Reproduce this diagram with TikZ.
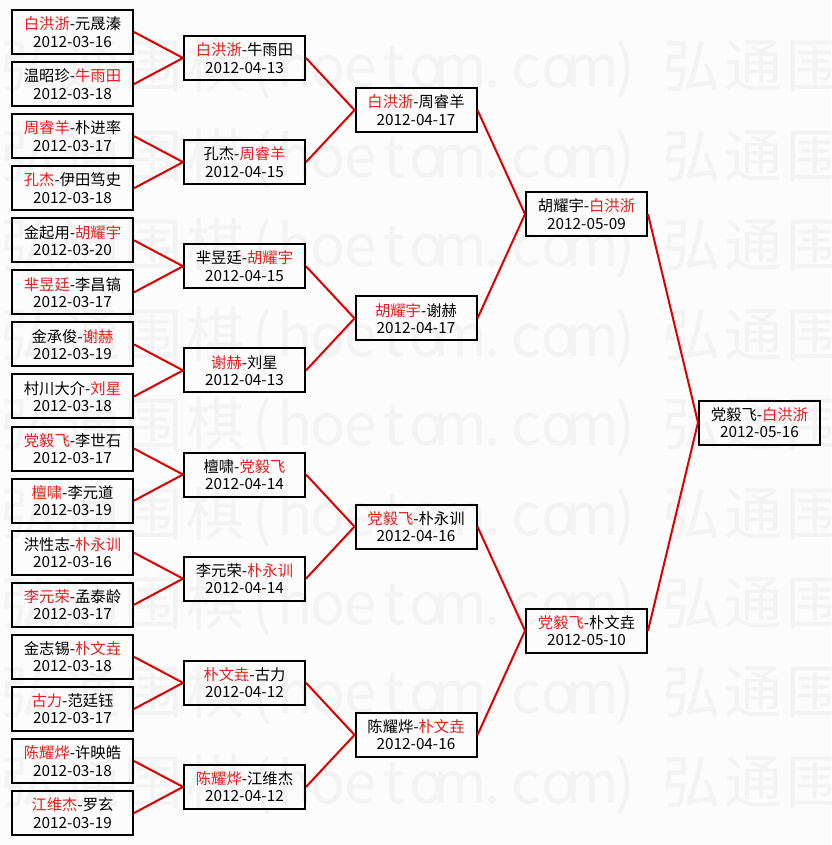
\documentclass[tikz,border=0pt]{standalone}
\usepackage{fontspec}
\setmainfont{Noto Sans CJK SC}
\definecolor{wline}{RGB}{220,0,0}
\definecolor{wtxt}{RGB}{232,30,30}
\definecolor{wmark}{RGB}{243,243,243}
\definecolor{bgc}{RGB}{252,252,252}
\tikzset{
  game/.style={draw=black, line width=2pt, minimum width=121pt, minimum height=44pt,
    inner sep=0pt, align=center, font=\fontsize{15.3}{17.3}\selectfont},
  link/.style={draw=wline, line width=2pt},
  wm/.style={text=wmark, font=\fontsize{58}{58}\selectfont, inner sep=0pt, anchor=base}
}
\newcommand\R[1]{\textcolor{wtxt}{#1}}
\def\wlp{(}
\def\wrp{)}
\begin{document}
\begin{tikzpicture}[x=1pt,y=-1pt]
\useasboundingbox (0,0) rectangle (831,845);
\fill[bgc] (0,0) rectangle (831,845);
% watermark
\begin{scope}
\clip (0,0) rectangle (831,845);
\foreach \k in {0,...,8}{
  \foreach \n in {0,1}{
    \foreach \c [count=\j from 0] in {弘,通,围,棋}{
      \node[wm] (wmc-\k-\n-\j) at ({29+662*\n+62*\j},{88+89.4*\k}) {\c};
    }
    \foreach \c [count=\i from 0] in {\wlp,h,o,e,t,o,m,.,c,o,m,\wrp}{
      \node[wm] (wma-\k-\n-\i) at ({262+662*\n+33*\i},{88+89.4*\k}) {\c};
    }
  }
}
\end{scope}
% round 1
\node[game] (a1)  at (72.5,32)     {\R{白洪浙}-元晟溱\\2012-03-16};
\node[game] (a2)  at (72.5,84.07)  {温昭珍-\R{牛雨田}\\2012-03-18};
\node[game] (a3)  at (72.5,136.14) {\R{周睿羊}-朴进率\\2012-03-17};
\node[game] (a4)  at (72.5,188.21) {\R{孔杰}-伊田笃史\\2012-03-18};
\node[game] (a5)  at (72.5,240.28) {金起用-\R{胡耀宇}\\2012-03-20};
\node[game] (a6)  at (72.5,292.35) {\R{芈昱廷}-李昌镐\\2012-03-17};
\node[game] (a7)  at (72.5,344.42) {金承俊-\R{谢赫}\\2012-03-19};
\node[game] (a8)  at (72.5,396.49) {村川大介-\R{刘星}\\2012-03-18};
\node[game] (a9)  at (72.5,448.56) {\R{党毅飞}-李世石\\2012-03-17};
\node[game] (a10) at (72.5,500.63) {\R{檀啸}-李元道\\2012-03-19};
\node[game] (a11) at (72.5,552.7)  {洪性志-\R{朴永训}\\2012-03-16};
\node[game] (a12) at (72.5,604.77) {\R{李元荣}-孟泰龄\\2012-03-17};
\node[game] (a13) at (72.5,656.84) {金志锡-\R{朴文垚}\\2012-03-18};
\node[game] (a14) at (72.5,708.91) {\R{古力}-范廷钰\\2012-03-17};
\node[game] (a15) at (72.5,760.98) {\R{陈耀烨}-许映皓\\2012-03-18};
\node[game] (a16) at (72.5,813.05) {\R{江维杰}-罗玄\\2012-03-19};
% round 2
\node[game] (b1) at (244.5,58)     {\R{白洪浙}-牛雨田\\2012-04-13};
\node[game] (b2) at (244.5,162.13) {孔杰-\R{周睿羊}\\2012-04-15};
\node[game] (b3) at (244.5,266.26) {芈昱廷-\R{胡耀宇}\\2012-04-15};
\node[game] (b4) at (244.5,370.39) {\R{谢赫}-刘星\\2012-04-13};
\node[game] (b5) at (244.5,474.52) {檀啸-\R{党毅飞}\\2012-04-14};
\node[game] (b6) at (244.5,578.65) {李元荣-\R{朴永训}\\2012-04-14};
\node[game] (b7) at (244.5,682.78) {\R{朴文垚}-古力\\2012-04-12};
\node[game] (b8) at (244.5,786.91) {\R{陈耀烨}-江维杰\\2012-04-12};
% round 3
\node[game] (c1) at (416,110.1)  {\R{白洪浙}-周睿羊\\2012-04-17};
\node[game] (c2) at (416,318.37) {\R{胡耀宇}-谢赫\\2012-04-17};
\node[game] (c3) at (416,526.64) {\R{党毅飞}-朴永训\\2012-04-16};
\node[game] (c4) at (416,734.91) {陈耀烨-\R{朴文垚}\\2012-04-16};
% round 4
\node[game] (d1) at (586.5,214.2) {胡耀宇-\R{白洪浙}\\2012-05-09};
\node[game] (d2) at (586.5,630.7) {\R{党毅飞}-朴文垚\\2012-05-10};
% final
\node[game] (e1) at (759.5,422.5) {党毅飞-\R{白洪浙}\\2012-05-16};
% links
\foreach \j [evaluate=\j as \p using int(2*\j-1), evaluate=\j as \q using int(2*\j)] in {1,...,8}{
  \draw[link] (a\p.east) -- (b\j.west);
  \draw[link] (a\q.east) -- (b\j.west);
}
\foreach \j [evaluate=\j as \p using int(2*\j-1), evaluate=\j as \q using int(2*\j)] in {1,...,4}{
  \draw[link] (b\p.east) -- (c\j.west);
  \draw[link] (b\q.east) -- (c\j.west);
}
\foreach \j [evaluate=\j as \p using int(2*\j-1), evaluate=\j as \q using int(2*\j)] in {1,2}{
  \draw[link] (c\p.east) -- (d\j.west);
  \draw[link] (c\q.east) -- (d\j.west);
}
\draw[link] (d1.east) -- (e1.west);
\draw[link] (d2.east) -- (e1.west);
\end{tikzpicture}
\end{document}
